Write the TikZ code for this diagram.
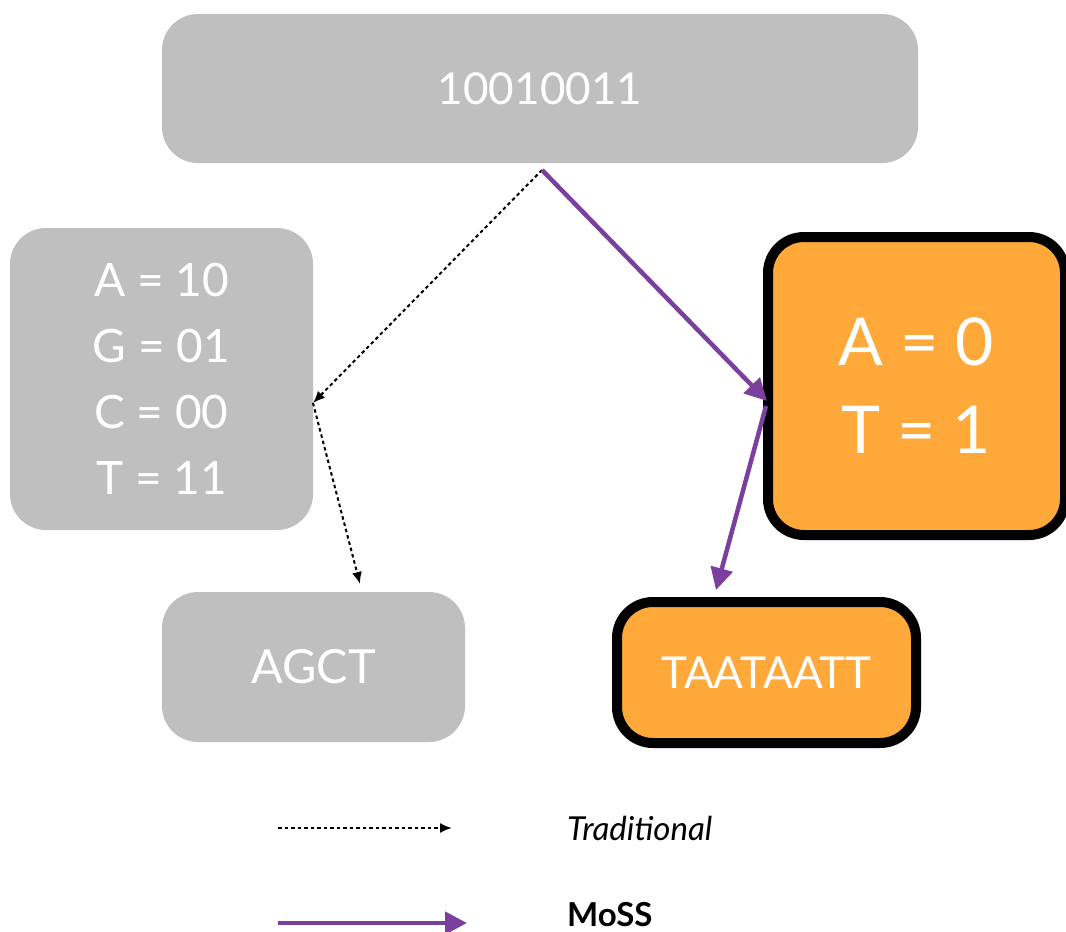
\documentclass[tikz,border=0pt]{standalone}
\usepackage{fontspec}
\setmainfont{Lato}
\usetikzlibrary{arrows.meta}
\definecolor{boxgray}{HTML}{BFBFBF}
\definecolor{mossorange}{HTML}{FFA93A}
\definecolor{mosspurple}{HTML}{7B3F9E}
\begin{document}
\begin{tikzpicture}[x=1pt,y=-1pt,
  graybox/.style={fill=boxgray, draw=none, rounded corners=36pt, text=white, inner sep=0pt},
  orangebox/.style={fill=mossorange, draw=black, line width=10pt, rounded corners=36pt, text=white, inner sep=0pt},
  trad/.style={draw=black, line width=2pt, dash pattern=on 3.5pt off 3pt, -{Latex[length=12pt,width=10pt]}},
  mossarrow/.style={draw=mosspurple, line width=4.5pt, -{Triangle[length=22pt,width=22pt]}},
  lbl/.style={inner sep=0pt, anchor=west}
]
\useasboundingbox (0,0) rectangle (1066,932);
% boxes
\node[graybox, minimum width=756pt, minimum height=149pt, font=\fontsize{44}{50}\selectfont] (top) at (540,88.5) {10010011};
\node[graybox, minimum width=303pt, minimum height=302pt, align=center, font=\fontsize{46}{66}\selectfont] (enc) at (161.5,379) {A = 10\\G = 01\\C = 00\\T = 11};
\node[orangebox, minimum width=297pt, minimum height=298pt, align=center, font=\fontsize{66}{88}\selectfont] (moss) at (916.5,386) {A = 0\\T = 1};
\node[graybox, minimum width=303pt, minimum height=150pt, font=\fontsize{47}{50}\selectfont] (agct) at (313.5,667) {AGCT};
\node[orangebox, minimum width=299pt, minimum height=141pt, font=\fontsize{44}{50}\selectfont] (taat) at (766.5,672.5) {TAATAATT};
% connector points
\coordinate (split) at (542,170);
\coordinate (encin) at (313,403);
\coordinate (agctin) at (360,584);
\coordinate (mossin) at (767,401);
\coordinate (mossout) at (766,406);
\coordinate (taatin) at (716,590);
% connectors
\draw[trad] (split) -- (encin);
\draw[trad] (encin) -- (agctin);
\draw[mossarrow] (split) -- (mossin);
\draw[mossarrow] (mossout) -- (taatin);
% legend
\coordinate (l1a) at (278,828);
\coordinate (l1b) at (452,828);
\coordinate (l2a) at (278,923);
\coordinate (l2b) at (467,923);
\draw[trad] (l1a) -- (l1b);
\draw[mossarrow] (l2a) -- (l2b);
\node[lbl, font=\fontsize{33}{36}\selectfont\itshape] (tradlbl) at (567,828) {Traditional};
\node[lbl, font=\fontsize{33}{36}\selectfont\bfseries] (mosslbl) at (567,915) {MoSS};
\end{tikzpicture}
\end{document}
